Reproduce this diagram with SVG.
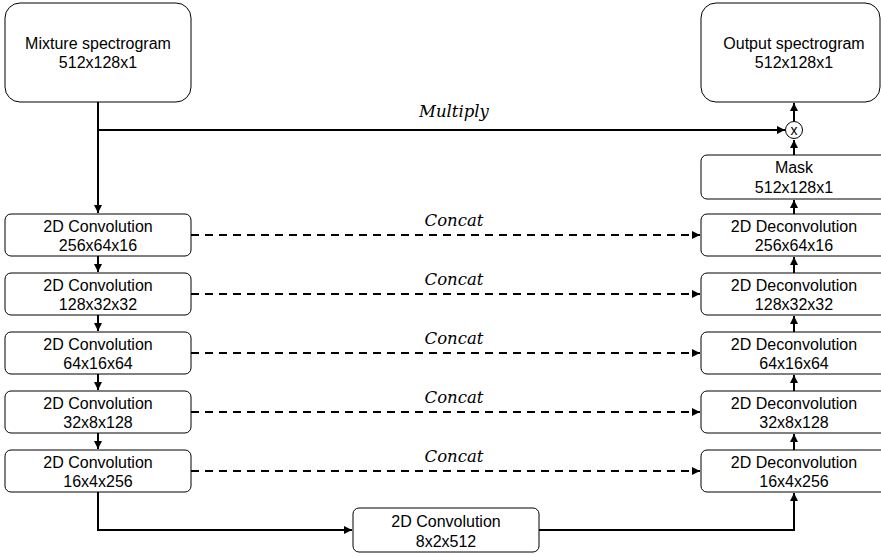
<svg xmlns="http://www.w3.org/2000/svg" width="881" height="557" viewBox="0 0 881 557">
  <style>
    .box { fill: #ffffff; stroke: #000000; stroke-width: 1; }
    .lbl { font-family: "Liberation Sans", Arial, sans-serif; font-size: 16px; fill: #000000; text-anchor: middle; }
    .op { font-family: "DejaVu Serif", "Liberation Serif", serif; font-style: italic; font-size: 16.5px; fill: #000000; text-anchor: middle; }
    .solid { fill: none; stroke: #000000; stroke-width: 2; }
    .dash { fill: none; stroke: #000000; stroke-width: 2; stroke-dasharray: 8 6; }
  </style>
  <defs>
    <marker id="arrow" viewBox="0 0 10 10" refX="10" refY="5" markerWidth="4" markerHeight="4" orient="auto" markerUnits="strokeWidth">
      <path d="M0,0 L10,5 L0,10 z" fill="#000000"/>
    </marker>
  </defs>

  <rect width="881" height="557" fill="#ffffff"/>

  <!-- connectors -->
  <g id="connectors">
    <path class="solid" d="M98,102 V213" marker-end="url(#arrow)"/>
    <path class="solid" d="M98,130 H785" marker-end="url(#arrow)"/>
    <path class="solid" d="M98,256 V272" marker-end="url(#arrow)"/>
    <path class="solid" d="M98,315 V331" marker-end="url(#arrow)"/>
    <path class="solid" d="M98,374 V390" marker-end="url(#arrow)"/>
    <path class="solid" d="M98,433 V449" marker-end="url(#arrow)"/>
    <path class="solid" d="M98,492 V530 H352" marker-end="url(#arrow)"/>
    <path class="solid" d="M539,530 H794 V493" marker-end="url(#arrow)"/>
    <path class="solid" d="M794,450 V434" marker-end="url(#arrow)"/>
    <path class="solid" d="M794,391 V375" marker-end="url(#arrow)"/>
    <path class="solid" d="M794,332 V316" marker-end="url(#arrow)"/>
    <path class="solid" d="M794,273 V257" marker-end="url(#arrow)"/>
    <path class="solid" d="M794,214 V200" marker-end="url(#arrow)"/>
    <path class="solid" d="M794,155 V140" marker-end="url(#arrow)"/>
    <path class="solid" d="M794,121 V103" marker-end="url(#arrow)"/>
    <path class="dash" d="M191,235 H700" marker-end="url(#arrow)"/>
    <path class="dash" d="M191,294 H700" marker-end="url(#arrow)"/>
    <path class="dash" d="M191,353 H700" marker-end="url(#arrow)"/>
    <path class="dash" d="M191,412 H700" marker-end="url(#arrow)"/>
    <path class="dash" d="M191,471 H700" marker-end="url(#arrow)"/>
    <text class="op" x="454" y="117">Multiply</text>
    <text class="op" x="454" y="226">Concat</text>
    <text class="op" x="454" y="285">Concat</text>
    <text class="op" x="454" y="344">Concat</text>
    <text class="op" x="454" y="403">Concat</text>
    <text class="op" x="454" y="462">Concat</text>
  </g>

  <g id="mixture">
    <rect class="box" x="5" y="3" width="186" height="99" rx="15"/>
    <text class="lbl" x="98" y="49">Mixture spectrogram</text>
    <text class="lbl" x="98" y="68">512x128x1</text>
  </g>
  <g id="output">
    <rect class="box" x="701" y="3" width="179" height="99" rx="15"/>
    <text class="lbl" x="794" y="49">Output spectrogram</text>
    <text class="lbl" x="794" y="68">512x128x1</text>
  </g>
  <g id="multiply">
    <circle cx="794" cy="130" r="8.5" fill="#ffffff" stroke="#000000" stroke-width="1"/>
    <text class="lbl" x="794" y="135" style="font-size:14px">x</text>
  </g>
  <g id="mask">
    <rect class="box" x="701" y="155" width="186" height="44" rx="6"/>
    <text class="lbl" x="794" y="173">Mask</text>
    <text class="lbl" x="794" y="193">512x128x1</text>
  </g>

  <g id="conv1">
    <rect class="box" x="5" y="214" width="186" height="42" rx="6"/>
    <text class="lbl" x="98" y="232">2D Convolution</text>
    <text class="lbl" x="98" y="251">256x64x16</text>
  </g>
  <g id="conv2">
    <rect class="box" x="5" y="273" width="186" height="42" rx="6"/>
    <text class="lbl" x="98" y="291">2D Convolution</text>
    <text class="lbl" x="98" y="310">128x32x32</text>
  </g>
  <g id="conv3">
    <rect class="box" x="5" y="332" width="186" height="42" rx="6"/>
    <text class="lbl" x="98" y="350">2D Convolution</text>
    <text class="lbl" x="98" y="369">64x16x64</text>
  </g>
  <g id="conv4">
    <rect class="box" x="5" y="391" width="186" height="42" rx="6"/>
    <text class="lbl" x="98" y="409">2D Convolution</text>
    <text class="lbl" x="98" y="428">32x8x128</text>
  </g>
  <g id="conv5">
    <rect class="box" x="5" y="450" width="186" height="42" rx="6"/>
    <text class="lbl" x="98" y="468">2D Convolution</text>
    <text class="lbl" x="98" y="487">16x4x256</text>
  </g>
  <g id="bottleneck">
    <rect class="box" x="353" y="508" width="186" height="44" rx="6"/>
    <text class="lbl" x="446" y="527">2D Convolution</text>
    <text class="lbl" x="446" y="547">8x2x512</text>
  </g>

  <g id="deconv1">
    <rect class="box" x="701" y="214" width="186" height="42" rx="6"/>
    <text class="lbl" x="794" y="232">2D Deconvolution</text>
    <text class="lbl" x="794" y="251">256x64x16</text>
  </g>
  <g id="deconv2">
    <rect class="box" x="701" y="273" width="186" height="42" rx="6"/>
    <text class="lbl" x="794" y="291">2D Deconvolution</text>
    <text class="lbl" x="794" y="310">128x32x32</text>
  </g>
  <g id="deconv3">
    <rect class="box" x="701" y="332" width="186" height="42" rx="6"/>
    <text class="lbl" x="794" y="350">2D Deconvolution</text>
    <text class="lbl" x="794" y="369">64x16x64</text>
  </g>
  <g id="deconv4">
    <rect class="box" x="701" y="391" width="186" height="42" rx="6"/>
    <text class="lbl" x="794" y="409">2D Deconvolution</text>
    <text class="lbl" x="794" y="428">32x8x128</text>
  </g>
  <g id="deconv5">
    <rect class="box" x="701" y="450" width="186" height="42" rx="6"/>
    <text class="lbl" x="794" y="468">2D Deconvolution</text>
    <text class="lbl" x="794" y="487">16x4x256</text>
  </g>
</svg>
